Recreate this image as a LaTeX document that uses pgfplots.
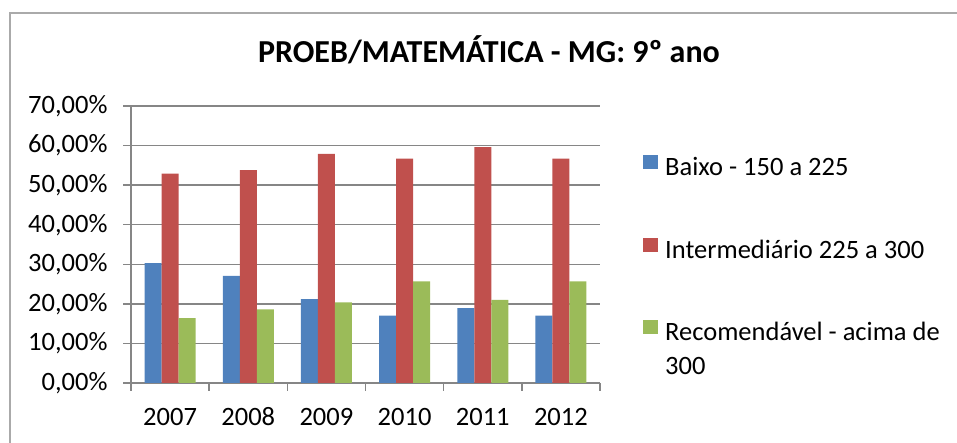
\documentclass[border=0pt]{standalone}
\usepackage{pgfplots}
\pgfplotsset{compat=1.18}
\usepackage{fontspec}
\setmainfont{Carlito}
\definecolor{cblue}{RGB}{79,129,189}
\definecolor{cred}{RGB}{192,80,77}
\definecolor{cgreen}{RGB}{155,187,89}
\definecolor{cgrid}{RGB}{134,134,134}
\begin{document}
\begin{tikzpicture}[x=1pt,y=1pt]
\useasboundingbox (0,0) rectangle (957,443);
\draw[cgrid!70, line width=1.2pt] (10,-5) -- (10,430) -- (962,430);
\node[font=\fontsize{32}{38}\selectfont\bfseries] at (489,393) {PROEB/MATEMÁTICA - MG: 9º ano};
\begin{axis}[
 at={(131pt,60pt)}, anchor=south west,
 scale only axis, width=469pt, height=277pt,
 ybar=0pt, bar width=17pt,
 xmin=-0.5, xmax=5.5, ymin=0, ymax=70,
 xtick={-0.5,0.5,1.5,2.5,3.5,4.5,5.5}, xticklabels={},
 extra x ticks={0,1,2,3,4,5},
 extra x tick labels={2007,2008,2009,2010,2011,2012},
 extra x tick style={major tick length=0pt, xticklabel style={anchor=north, text height=17pt, text depth=2pt, yshift=-22pt}},
 ytick={0,10,...,70},
 yticklabel={\pgfmathprintnumber[fixed,fixed zerofill,precision=2,use comma]{\tick}\%},
 ymajorgrids, major grid style={cgrid, line width=1.5pt},
 axis x line*=bottom, axis y line*=left,
 axis line style={cgrid, line width=1.5pt, -},
 tick style={cgrid, line width=1.5pt},
 major tick length=8pt, tick align=outside,
 ticklabel style={font=\fontsize{26.5}{31}\selectfont},
 /pgf/number format/assume math mode=true,
 yticklabel style={xshift=-12pt},
 legend cell align=left,
 legend image code/.code={\fill[#1] (0pt,0pt) rectangle (15pt,14pt);},
 legend style={draw=none, fill=none, inner sep=0pt, row sep=57pt, column sep=7pt,
   font=\fontsize{26.5}{34}\selectfont,
   nodes={inner sep=0pt, text height=18pt, text depth=5pt},
   at={(1.0917,0.8231)}, anchor=north west},
]
\addplot[fill=cblue, draw=none] coordinates {(0,30.3) (1,27.1) (2,21.2) (3,17.0) (4,18.9) (5,17.0)};
\addplot[fill=cred, draw=none] coordinates {(0,52.9) (1,53.8) (2,57.9) (3,56.7) (4,59.6) (5,56.7)};
\addplot[fill=cgreen, draw=none] coordinates {(0,16.4) (1,18.6) (2,20.4) (3,25.7) (4,21.0) (5,25.7)};
\legend{Baixo - 150 a 225, Intermediário 225 a 300, {\parbox[t]{300pt}{Recomendável - acima de\\300}}}
\end{axis}
\end{tikzpicture}
\end{document}
